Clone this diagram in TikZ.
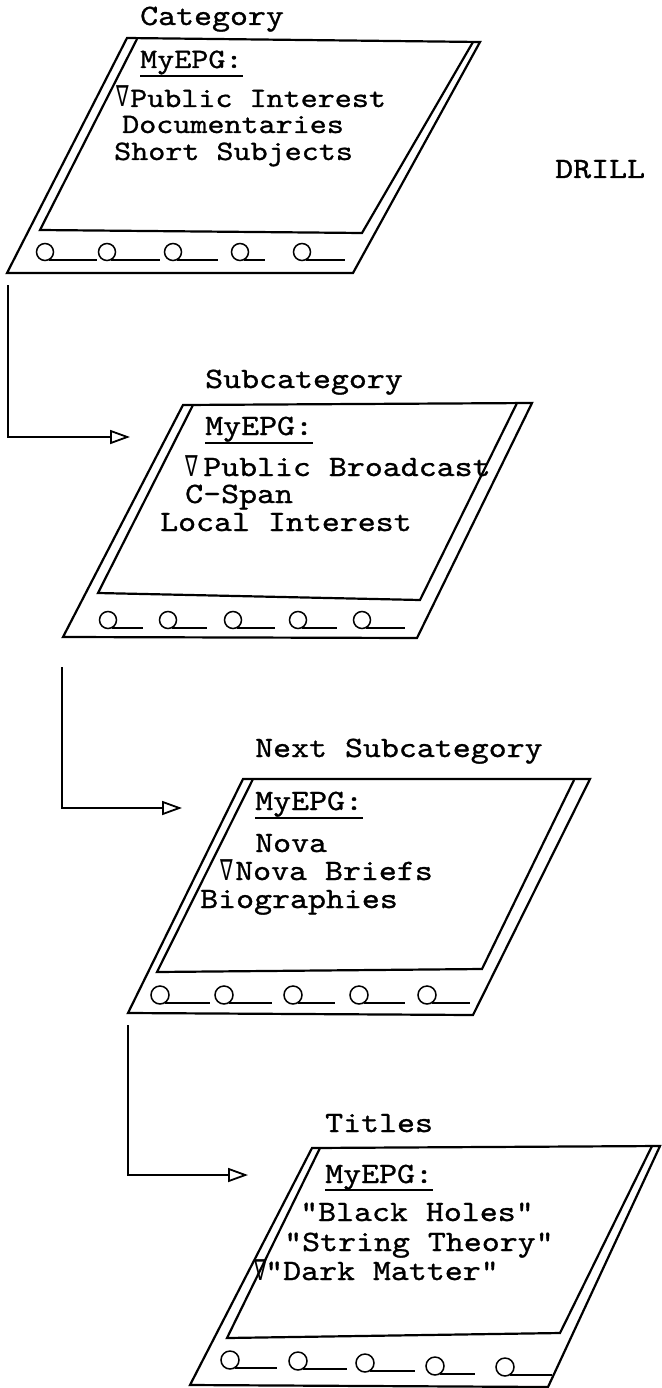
\documentclass[tikz,border=0pt]{standalone}
\usepackage{fontspec}
\usetikzlibrary{arrows.meta}
\newfontfamily\cour{lmmono10-regular.otf}[FakeStretch=1.16,FakeBold=1.0]
\newfontfamily\djv{DejaVu Sans}
\newcommand\lbfont{\cour\fontsize{29.5}{30}\selectfont}
\newcommand\bdfont{\cour\fontsize{29.5}{30}\selectfont}
\newcommand\bdsmall{\cour\fontsize{28}{28}\selectfont}
\newcommand\nab{\scalebox{0.65}[1]{\djv\fontsize{29}{29}\selectfont ∇}}
\newcommand\nabbox[1]{\makebox[#1][l]{\nab}}
\tikzset{
  frame/.style={line width=2.2pt, line join=miter},
  btn/.style={line width=1.5pt},
  btnline/.style={line width=1.3pt},
  uline/.style={line width=1.3pt},
  lbl/.style={anchor=base west, inner sep=0pt, font=\lbfont},
  body/.style={anchor=base west, inner sep=0pt, font=\bdfont},
  bodysm/.style={anchor=base west, inner sep=0pt, font=\bdsmall},
  flow/.style={line width=1.8pt, -{Triangle[open,length=20pt,width=14pt,line width=1.8pt]}},
}
\begin{document}
\begin{tikzpicture}[x=1pt,y=-1pt]
\useasboundingbox (0,0) rectangle (661,1388);

% ---------- Panel 1 : Category ----------
\draw[frame] (127,38) -- (480,42) -- (353,273) -- (7,273) -- cycle;
\draw[frame] (137,39) -- (40,230) -- (362,233) -- (473,42);
\foreach \cx/\ex in {45/97,107/160,173/218,240/265,302/345}{
  \draw[btn] (\cx,252) circle[radius=8.5pt];
  \draw[btnline] (\cx+4,260) -- (\ex,260);
}
\node[lbl] (p1lab) at (140,25) {Category};
\node[bodysm] (p1hd) at (140,68) {MyEPG:};
\draw[uline] ([yshift=-8pt]p1hd.base west) -- ([yshift=-8pt]p1hd.base east);
\node[bodysm] (p1a) at (116,107) {\nabbox{14pt}Public Interest};
\node[bodysm] (p1b) at (122,133) {Documentaries};
\node[bodysm] (p1c) at (114,160) {Short Subjects};
\node[lbl] (drill) at (555,178) {DRILL};

% ---------- Panel 2 : Subcategory ----------
\draw[frame] (183,405) -- (532,403) -- (417,638) -- (63,637) -- cycle;
\draw[frame] (193,405) -- (98,593) -- (420,600) -- (517,403);
\foreach \cx/\ex in {108/143,168/207,233/275,298/337,362/405}{
  \draw[btn] (\cx,620) circle[radius=8.5pt];
  \draw[btnline] (\cx+4,628) -- (\ex,628);
}
\node[lbl] (p2lab) at (205,388) {Subcategory};
\node[body] (p2hd) at (205,435) {MyEPG:};
\draw[uline] ([yshift=-8pt]p2hd.base west) -- ([yshift=-8pt]p2hd.base east);
\node[body] (p2a) at (185,476) {\nabbox{18pt}Public Broadcast};
\node[body] (p2b) at (185,503) {C-Span};
\node[body] (p2c) at (160,531) {Local Interest};

% ---------- Panel 3 : Next Subcategory ----------
\draw[frame] (243,779) -- (590,779) -- (473,1015) -- (128,1013) -- cycle;
\draw[frame] (253,779) -- (157,972) -- (482,969) -- (574,780);
\foreach \cx/\ex in {160/210,224/272,293/335,359/405,427/470}{
  \draw[btn] (\cx,995) circle[radius=9pt];
  \draw[btnline] (\cx+5,1003) -- (\ex,1003);
}
\node[lbl] (p3lab) at (255,757) {Next Subcategory};
\node[body] (p3hd) at (255,810) {MyEPG:};
\draw[uline] ([yshift=-8pt]p3hd.base west) -- ([yshift=-8pt]p3hd.base east);
\node[body] (p3a) at (255,852) {Nova};
\node[body] (p3b) at (220,880) {\nabbox{15pt}Nova Briefs};
\node[body] (p3c) at (200,908) {Biographies};

% ---------- Panel 4 : Titles ----------
\draw[frame] (312,1148) -- (660,1146) -- (548,1387) -- (190,1385) -- cycle;
\draw[frame] (320,1148) -- (227,1338) -- (560,1333) -- (652,1146);
\foreach \cx/\cy/\ex in {230/1360/277,298/1361/347,365/1363/415,435/1366/475,505/1367/552}{
  \draw[btn] (\cx,\cy) circle[radius=9pt];
  \draw[btnline] (\cx+5,\cy+8) -- (\ex,\cy+8);
}
\node[lbl] (p4lab) at (325,1132) {Titles};
\node[body] (p4hd) at (325,1183) {MyEPG:};
\draw[uline] ([yshift=-7pt]p4hd.base west) -- ([yshift=-7pt]p4hd.base east);
\node[body] (p4a) at (300,1221) {"Black Holes"};
\node[body] (p4b) at (284,1251) {"String Theory"};
\node[body] (p4c) at (254,1280) {\nabbox{11pt}"Dark Matter"};

% ---------- connectors ----------
\coordinate (s1) at (8,285);
\coordinate (t1) at (130,437);
\coordinate (s2) at (62,667);
\coordinate (t2) at (182,808);
\coordinate (s3) at (128,1025);
\coordinate (t3) at (248,1175);
\draw[flow] (s1) |- (t1);
\draw[flow] (s2) |- (t2);
\draw[flow] (s3) |- (t3);
\end{tikzpicture}
\end{document}
